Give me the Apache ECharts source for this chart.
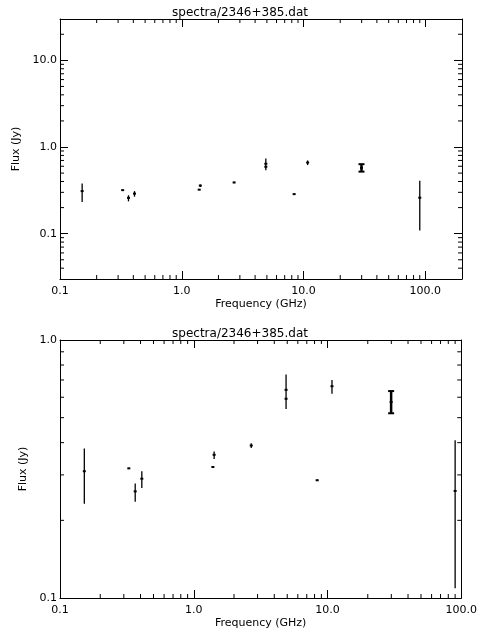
<!DOCTYPE html>
<html>
<head>
<meta charset="utf-8">
<script src="https://cdn.jsdelivr.net/npm/echarts@6/dist/echarts.min.js"></script>
<style>html,body{margin:0;padding:0;background:#fff}#c{width:480px;height:640px}</style>
</head>
<body>
<div id="c"></div>
<script>
// frequency (GHz), flux (Jy), error low, error high
const freq = [0.152, 0.327, 0.365, 0.409, 1.39, 1.42, 2.69, 4.9, 4.9, 8.37, 10.8, 29.9, 90];
const flux = [0.31, 0.318, 0.259, 0.29, 0.322, 0.359, 0.39, 0.641, 0.592, 0.286, 0.662, 0.575, 0.26];
const errLo = [0.232, 0.316, 0.236, 0.267, 0.32, 0.346, 0.381, 0.54, 0.588, 0.284, 0.619, 0.52, 0.109];
const errHi = [0.38, 0.32, 0.278, 0.31, 0.324, 0.37, 0.398, 0.735, 0.596, 0.288, 0.70, 0.634, 0.409];
const thick = [0, 0, 0, 0, 0, 0, 0, 0, 0, 0, 0, 1, 0];
const minorMult = [2, 3, 4, 5, 6, 7, 8, 9];
const decades = [0.01, 0.1, 1, 10, 100];

const font = 'DejaVu Sans';
const chart = echarts.init(document.getElementById('c'));

const points = freq.map((f, i) => [f, flux[i], errLo[i], errHi[i], thick[i]]);

function errorItem(params, api) {
  const x = api.value(0);
  const c = api.coord([x, api.value(1)]);
  const lo = api.coord([x, api.value(2)]);
  const hi = api.coord([x, api.value(3)]);
  const t = api.value(4);
  const lw = t ? 2.5 : 1.3;
  const children = [
    { type: 'line', shape: { x1: c[0], y1: lo[1], x2: c[0], y2: hi[1] }, style: { stroke: '#000', lineWidth: lw } },
    { type: 'rect', shape: { x: c[0] - 1.5, y: c[1] - 1, width: 3, height: 2 }, style: { fill: '#000' } }
  ];
  if (t) {
    children.push({ type: 'line', shape: { x1: c[0] - 3, y1: lo[1], x2: c[0] + 3, y2: lo[1] }, style: { stroke: '#000', lineWidth: 2 } });
    children.push({ type: 'line', shape: { x1: c[0] - 3, y1: hi[1], x2: c[0] + 3, y2: hi[1] }, style: { stroke: '#000', lineWidth: 2 } });
  }
  return { type: 'group', children };
}

// minor ticks at 2..9 times each decade, all four sides
function minorTicks(xr, yr) {
  const vals = [];
  decades.forEach(d => minorMult.forEach(m => vals.push(d * m)));
  return function (params, api) {
    const cs = params.coordSys;
    const children = [];
    vals.forEach(v => {
      if (v > xr[0] && v < xr[1]) {
        const p = api.coord([v, yr[0]])[0];
        children.push({ type: 'line', shape: { x1: p, y1: cs.y + cs.height, x2: p, y2: cs.y + cs.height - 4 }, style: { stroke: '#000', lineWidth: 1 } });
        children.push({ type: 'line', shape: { x1: p, y1: cs.y, x2: p, y2: cs.y + 4 }, style: { stroke: '#000', lineWidth: 1 } });
      }
      if (v > yr[0] && v < yr[1]) {
        const q = api.coord([xr[0], v])[1];
        children.push({ type: 'line', shape: { x1: cs.x, y1: q, x2: cs.x + 4, y2: q }, style: { stroke: '#000', lineWidth: 1 } });
        children.push({ type: 'line', shape: { x1: cs.x + cs.width, y1: q, x2: cs.x + cs.width - 4, y2: q }, style: { stroke: '#000', lineWidth: 1 } });
      }
    });
    return { type: 'group', children };
  };
}

const fmt = v => v.toFixed(1);
const axisLine = { show: true, lineStyle: { color: '#000', width: 1 } };
const tick = { inside: true, length: 8, lineStyle: { color: '#000' } };
const nameStyle = { color: '#000', fontFamily: font, fontSize: 11 };
function label(minL, maxL, margin) {
  return { color: '#000', fontFamily: font, fontSize: 11, margin, formatter: fmt, showMinLabel: minL, showMaxLabel: maxL };
}

function xAxes(gi, min, max, minL, maxL) {
  return [
    { type: 'log', gridIndex: gi, min, max, position: 'bottom', name: 'Frequency (GHz)', nameLocation: 'middle', nameGap: 20,
      nameTextStyle: nameStyle, axisLine, axisTick: tick, axisLabel: label(minL, maxL, 7), splitLine: { show: false } },
    { type: 'log', gridIndex: gi, min, max, position: 'top', axisLine, axisTick: tick, axisLabel: { show: false }, splitLine: { show: false } }
  ];
}
function yAxes(gi, min, max, edges, gap) {
  return [
    { type: 'log', gridIndex: gi, min, max, position: 'left', name: 'Flux (Jy)', nameLocation: 'middle', nameGap: gap,
      nameTextStyle: nameStyle, axisLine, axisTick: tick, axisLabel: label(edges, edges, 3), splitLine: { show: false } },
    { type: 'log', gridIndex: gi, min, max, position: 'right', axisLine, axisTick: tick, axisLabel: { show: false }, splitLine: { show: false } }
  ];
}

const ranges = [
  { x: [0.1, 200], y: [0.03, 30] },
  { x: [0.1, 100], y: [0.1, 1] }
];

chart.setOption({
  animation: false,
  title: [
    { text: 'spectra/2346+385.dat', left: 'center', top: 2, textStyle: { fontFamily: font, fontSize: 12, fontWeight: 'normal', color: '#000' } },
    { text: 'spectra/2346+385.dat', left: 'center', top: 323, textStyle: { fontFamily: font, fontSize: 12, fontWeight: 'normal', color: '#000' } }
  ],
  grid: [
    { left: 60, top: 19, width: 402, height: 260 },
    { left: 60, top: 340, width: 402, height: 258 }
  ],
  xAxis: [...xAxes(0, 0.1, 200, true, false), ...xAxes(1, 0.1, 100, true, true)],
  yAxis: [...yAxes(0, 0.03, 30, false, 22), ...yAxes(1, 0.1, 1, true, 18)],
  series: [
    { type: 'custom', xAxisIndex: 0, yAxisIndex: 0, renderItem: errorItem, data: points, clip: true },
    { type: 'custom', xAxisIndex: 2, yAxisIndex: 2, renderItem: errorItem, data: points, clip: true },
    { type: 'custom', xAxisIndex: 0, yAxisIndex: 0, renderItem: minorTicks(ranges[0].x, ranges[0].y), data: [[1, 1]], silent: true },
    { type: 'custom', xAxisIndex: 2, yAxisIndex: 2, renderItem: minorTicks(ranges[1].x, ranges[1].y), data: [[1, 1]], silent: true }
  ]
});
</script>
</body>
</html>
